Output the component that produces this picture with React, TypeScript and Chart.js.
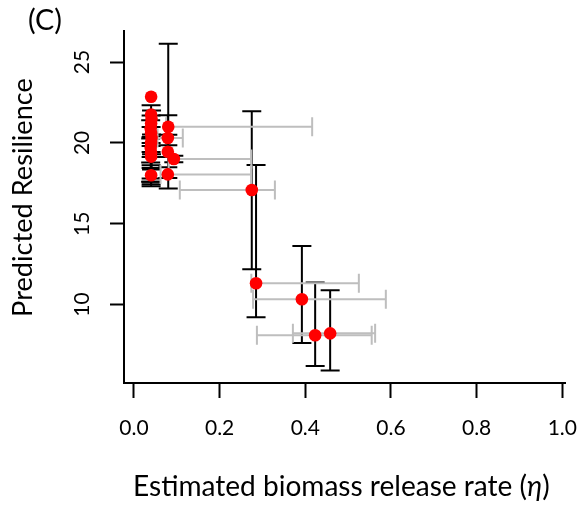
import { useEffect, useRef } from "react";
import { Chart, registerables } from "chart.js";

Chart.register(...registerables);

// ---- data ----
const eta = [0.040, 0.040, 0.041, 0.040, 0.039, 0.040, 0.041, 0.040, 0.039, 0.040, 0.040, 0.040,
  0.080, 0.079, 0.079, 0.093, 0.079, 0.275, 0.285, 0.392, 0.423, 0.458];
const etaLower = [0.040, 0.040, 0.041, 0.040, 0.039, 0.040, 0.041, 0.040, 0.039, 0.040, 0.040, 0.040,
  0.075, 0.055, 0.079, 0.081, 0.062, 0.107, 0.274, 0.278, 0.287, 0.371];
const etaUpper = [0.040, 0.040, 0.041, 0.040, 0.039, 0.040, 0.041, 0.040, 0.039, 0.040, 0.040, 0.040,
  0.416, 0.114, 0.079, 0.274, 0.274, 0.329, 0.525, 0.588, 0.555, 0.563];
const resilience = [22.85, 21.75, 21.5, 21.2, 20.9, 20.6, 20.3, 20.0, 19.7, 19.4, 19.15, 18.0,
  21.0, 20.3, 19.45, 19.0, 18.05, 17.09, 11.32, 10.33, 8.10, 8.22];
const resLower = [22.85, 19.44, 19.3, 19.13, 18.79, 18.62, 18.35, 17.8, 17.59, 17.44, 17.32, 17.6,
  17.18, 19.86, 19.12, 18.8, 17.83, 12.18, 9.22, 7.62, 6.2, 5.93];
const resUpper = [22.85, 22.33, 22.0, 21.7, 21.4, 20.99, 20.52, 20.37, 20.27, 20.0, 19.8, 18.45,
  26.13, 21.71, 20.5, 19.2, 18.5, 21.96, 18.64, 13.63, 11.36, 10.88];
const xTicks = [0, 0.2, 0.4, 0.6, 0.8, 1.0];
const yTicks = [10, 15, 20, 25];

const panelLabel = "(C)";
const yTitle = "Predicted Resilience";
const xTitleMain = "Estimated biomass release rate (";
const xTitleSymbol = "η";
const xTitleEnd = ")";

const FONT = "Lato, 'DejaVu Sans', sans-serif";

function fitSize(ctx: CanvasRenderingContext2D, parts: { t: string; italic?: boolean }[], target: number) {
  let w = 0;
  for (const p of parts) {
    ctx.font = `${p.italic ? "italic " : ""}30px ${FONT}`;
    w += ctx.measureText(p.t).width;
  }
  return (30 * target) / w;
}

const errorBarPlugin = {
  id: "errorBars",
  beforeDatasetsDraw(chart: any) {
    const { ctx } = chart;
    const xs = chart.scales.x;
    const ys = chart.scales.y;
    const cap = 9.5;
    ctx.save();
    ctx.lineCap = "butt";
    ctx.lineWidth = 2;
    ctx.strokeStyle = "#000000";
    for (let i = 0; i < eta.length; i++) {
      if (resLower[i] === resUpper[i]) continue;
      const px = xs.getPixelForValue(eta[i]);
      const y0 = ys.getPixelForValue(resLower[i]);
      const y1 = ys.getPixelForValue(resUpper[i]);
      ctx.beginPath();
      ctx.moveTo(px, y0);
      ctx.lineTo(px, y1);
      ctx.moveTo(px - cap, y0);
      ctx.lineTo(px + cap, y0);
      ctx.moveTo(px - cap, y1);
      ctx.lineTo(px + cap, y1);
      ctx.stroke();
    }
    ctx.strokeStyle = "#BEBEBE";
    for (let i = 0; i < eta.length; i++) {
      if (etaLower[i] === etaUpper[i]) continue;
      const py = ys.getPixelForValue(resilience[i]);
      const x0 = xs.getPixelForValue(etaLower[i]);
      const x1 = xs.getPixelForValue(etaUpper[i]);
      ctx.beginPath();
      ctx.moveTo(x0, py);
      ctx.lineTo(x1, py);
      ctx.moveTo(x0, py - cap);
      ctx.lineTo(x0, py + cap);
      ctx.moveTo(x1, py - cap);
      ctx.lineTo(x1, py + cap);
      ctx.stroke();
    }
    ctx.restore();
  },
};

const textPlugin = {
  id: "texts",
  afterDraw(chart: any) {
    const { ctx } = chart;
    ctx.save();
    ctx.fillStyle = "#000000";
    ctx.textBaseline = "alphabetic";

    // panel label
    let s = fitSize(ctx, [{ t: panelLabel }], 34);
    ctx.font = `${s}px ${FONT}`;
    ctx.textAlign = "left";
    ctx.fillText(panelLabel, 28, 30);

    // y title
    s = fitSize(ctx, [{ t: yTitle }], 239);
    ctx.font = `${s}px ${FONT}`;
    ctx.save();
    ctx.translate(32, 197.5);
    ctx.rotate(-Math.PI / 2);
    ctx.textAlign = "center";
    ctx.fillText(yTitle, 0, 0);
    ctx.restore();

    // x title with italic eta
    const parts = [{ t: xTitleMain }, { t: xTitleSymbol, italic: true }, { t: xTitleEnd }];
    s = fitSize(ctx, parts, 417);
    let x = 133;
    ctx.textAlign = "left";
    for (const p of parts) {
      ctx.font = `${p.italic ? "italic " : ""}${s}px ${FONT}`;
      ctx.fillText(p.t, x, 496);
      x += ctx.measureText(p.t).width;
    }
    ctx.restore();
  },
};

export default function App() {
  const ref = useRef<HTMLCanvasElement | null>(null);

  useEffect(() => {
    document.body.style.margin = "0";
    const canvas = ref.current;
    if (!canvas) return;
    const chart = new Chart(canvas, {
      type: "scatter",
      data: {
        datasets: [
          {
            data: eta.map((v, i) => ({ x: v, y: resilience[i] })),
            backgroundColor: "#FF0000",
            borderWidth: 0,
            pointRadius: 6.3,
            pointHoverRadius: 6.3,
          },
        ],
      },
      options: {
        animation: false,
        responsive: false,
        devicePixelRatio: 1,
        events: [],
        layout: { padding: { top: 31, left: 0, right: 14, bottom: 0 } },
        plugins: { legend: { display: false }, tooltip: { enabled: false } },
        scales: {
          x: {
            type: "linear",
            min: -0.0233,
            max: 1.0063,
            afterBuildTicks: (scale: any) => {
              scale.ticks = xTicks.map((v) => ({ value: v }));
            },
            afterFit: (scale: any) => {
              scale.height = 123;
              scale.paddingLeft = 0;
              scale.paddingRight = 0;
            },
            border: { display: true, color: "#000000", width: 2 },
            grid: {
              drawOnChartArea: false,
              drawTicks: true,
              tickLength: 15,
              tickWidth: 2,
              tickColor: "#000000",
              color: "#000000",
            },
            ticks: {
              font: { family: FONT, size: 21 },
              color: "#000000",
              padding: 18,
              maxRotation: 0,
              minRotation: 0,
              callback: (v: any) => Number(v).toFixed(1),
            },
          },
          y: {
            type: "linear",
            min: 5.15,
            max: 26.92,
            afterBuildTicks: (scale: any) => {
              scale.ticks = yTicks.map((v) => ({ value: v }));
            },
            afterFit: (scale: any) => {
              scale.width = 124;
              scale.paddingTop = 0;
              scale.paddingBottom = 0;
            },
            border: { display: true, color: "#000000", width: 2 },
            grid: {
              drawOnChartArea: false,
              drawTicks: true,
              tickLength: 14,
              tickWidth: 2,
              tickColor: "#000000",
              color: "#000000",
            },
            ticks: {
              font: { family: FONT, size: 21 },
              color: "#000000",
              padding: 16,
              minRotation: 90,
              maxRotation: 90,
              crossAlign: "center",
              callback: (v: any) => String(v),
            },
          },
        },
      },
      plugins: [errorBarPlugin, textPlugin],
    } as any);
    return () => chart.destroy();
  }, []);

  return (
    <div style={{ width: 579, height: 506 }}>
      <canvas ref={ref} width={579} height={506} style={{ display: "block" }} />
    </div>
  );
}
